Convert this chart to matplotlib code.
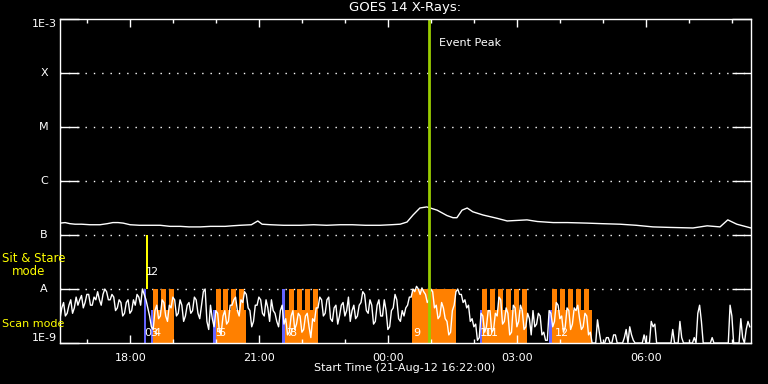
#!/usr/bin/env python3
import matplotlib
matplotlib.use("Agg")
import matplotlib.dates as mdates
import matplotlib.pyplot as plt
import matplotlib.transforms as mtransforms
import numpy as np
import pandas as pd

START = pd.Timestamp("2012-08-21 16:22:00")
END = START + pd.Timedelta(hours=16.07)

# GOES long channel: hours after start, log10 flux
goes_hr = [0.0, 0.12, 0.23, 0.35, 0.5, 0.7, 0.93, 1.1, 1.23, 1.35,
           1.47, 1.63, 1.85, 2.05, 2.33, 2.56, 2.8, 3.0, 3.26, 3.5,
           3.84, 4.0, 4.19, 4.45, 4.6, 4.7, 4.9, 5.2, 5.58, 5.9,
           6.2, 6.51, 6.8, 7.1, 7.44, 7.7, 7.91, 8.07, 8.21, 8.37,
           8.53, 8.77, 9.0, 9.14, 9.23, 9.35, 9.47, 9.6, 9.84, 10.16,
           10.4, 10.86, 11.1, 11.47, 11.8, 12.26, 12.6, 13.02, 13.4, 13.79,
           14.2, 14.72, 15.05, 15.35, 15.53, 15.74, 16.07]
goes_log = [-6.78, -6.77, -6.79, -6.80, -6.80, -6.81, -6.81, -6.79, -6.77, -6.77,
            -6.78, -6.81, -6.82, -6.82, -6.82, -6.84, -6.84, -6.85, -6.85, -6.84,
            -6.84, -6.83, -6.82, -6.81, -6.74, -6.80, -6.81, -6.82, -6.82, -6.81,
            -6.82, -6.81, -6.81, -6.82, -6.82, -6.81, -6.80, -6.76, -6.63, -6.50,
            -6.48, -6.54, -6.64, -6.68, -6.68, -6.54, -6.50, -6.57, -6.63, -6.69,
            -6.74, -6.72, -6.75, -6.77, -6.77, -6.78, -6.79, -6.80, -6.82, -6.85,
            -6.86, -6.87, -6.83, -6.85, -6.72, -6.80, -6.87]

# low trace, one value every 2.5 minutes from start (log10 flux), one row per hour
LOW_STEP_MIN = 2.5
low_log = [
    -8.55, -8.35, -8.25, -8.50, -8.45, -8.30, -8.20, -8.45, -8.35, -8.15, -8.30, -8.20,
    -8.12, -8.35, -8.25, -8.10, -8.10, -8.30, -8.30, -8.15, -8.20, -8.05, -8.20, -8.30,
    -8.10, -8.00, -8.05, -8.20, -8.20, -8.10, -8.15, -8.40, -8.35, -8.20, -8.25, -8.50,
    -8.45, -8.25, -8.20, -8.45, -8.40, -8.20, -8.30, -8.10, -8.15, -8.30, -8.00, -8.10,
    -8.20, -8.35, -8.50, -8.70, -8.75, -8.40, -8.30, -8.55, -8.50, -8.20, -8.25, -8.50,
    -8.60, -8.30, -8.35, -8.15, -8.20, -8.50, -8.45, -8.20, -8.30, -8.60, -8.50, -8.30,
    -8.25, -8.45, -8.40, -8.15, -8.20, -8.45, -8.55, -8.30, -8.05, -8.00, -8.60, -8.75,
    -8.30, -8.55, -8.70, -8.40, -8.45, -8.80, -8.80, -8.50, -8.40, -8.65, -8.60, -8.30,
    -8.30, -8.20, -8.15, -8.40, -8.50, -8.20, -8.25, -8.05, -8.10, -8.35, -8.40, -8.70,
    -8.60, -8.30, -8.30, -8.15, -8.20, -8.45, -8.50, -8.20, -8.35, -8.60, -8.20, -8.40,
    -8.45, -8.60, -8.70, -8.40, -8.30, -8.65, -8.55, -8.85, -8.80, -8.50, -8.40, -8.75,
    -8.65, -8.45, -8.50, -8.80, -8.75, -8.50, -8.45, -8.70, -8.90, -8.55, -8.60, -8.35,
    -8.35, -8.15, -8.20, -8.50, -8.45, -8.20, -8.15, -8.55, -8.60, -8.35, -8.30, -8.65,
    -8.50, -8.30, -8.25, -8.50, -8.40, -8.15, -8.60, -8.40, -8.30, -8.55, -8.50, -8.30,
    -8.25, -8.05, -8.10, -8.40, -8.45, -8.20, -8.30, -8.65, -8.60, -8.30, -8.20, -8.50,
    -8.50, -8.20, -8.40, -8.75, -8.70, -8.40, -8.35, -8.10, -8.20, -8.55, -8.60, -8.40,
    -8.50, -8.35, -8.30, -8.15, -8.15, -8.00, -8.05, -7.95, -8.00, -8.10, -7.98, -8.05,
    -8.10, -8.25, -8.20, -8.00, -8.05, -8.35, -8.30, -8.55, -8.50, -8.25, -8.35, -8.55,
    -8.60, -8.85, -8.80, -8.40, -8.30, -8.05, -8.00, -8.10, -8.10, -8.25, -8.20, -8.35,
    -8.30, -8.60, -8.55, -8.70, -8.65, -8.95, -8.90, -8.45, -8.50, -8.80, -8.70, -8.40,
    -8.40, -8.80, -8.75, -8.45, -8.50, -8.15, -8.20, -8.65, -8.60, -8.35, -8.45, -8.85,
    -8.80, -8.30, -8.35, -8.70, -8.60, -8.30, -8.40, -8.75, -8.70, -8.45, -8.55, -8.85,
    -8.40, -8.70, -8.65, -8.45, -8.50, -8.85, -8.80, -8.95, -8.95, -8.40, -8.45, -8.70,
    -8.60, -8.25, -8.30, -8.55, -8.50, -8.80, -8.70, -8.35, -8.40, -8.75, -8.65, -8.35,
    -8.40, -8.30, -8.55, -8.75, -8.70, -8.45, -8.50, -8.85, -8.80, -9.00, -9.00, -9.00,
    -8.57, -8.80, -9.00, -9.00, -9.00, -8.90, -8.90, -9.00, -9.00, -8.85, -8.85, -9.00,
    -9.00, -9.00, -9.00, -8.90, -8.75, -9.00, -8.70, -8.85, -8.95, -9.00, -9.00, -9.00,
    -9.00, -9.00, -8.85, -9.00, -9.00, -9.00, -8.60, -8.70, -8.65, -9.00, -9.00, -9.00,
    -9.00, -9.00, -9.00, -9.00, -9.00, -9.00, -8.75, -9.00, -9.00, -9.00, -8.60, -8.90,
    -9.00, -9.00, -9.00, -9.00, -9.00, -9.00, -8.90, -9.00, -8.45, -8.30, -8.60, -9.00,
    -9.00, -9.00, -9.00, -9.00, -8.90, -9.00, -9.00, -9.00, -9.00, -9.00, -9.00, -9.00,
    -9.00, -9.00, -8.30, -8.50, -9.00, -9.00, -9.00, -9.00, -8.55, -8.90, -9.00, -8.75,
    -8.60, -8.70,
]

# scan mode blocks (orange): base span and comb teeth
scan_blocks = [("18:32", "19:00"), ("20:00", "20:42"), ("21:36", "22:21"),
               ("02:11", "03:12"), ("03:48", "04:44")]
scan_teeth = [["18:32", "18:43", "18:54"],
              ["20:00", "20:09", "20:20", "20:32"],
              ["21:42", "21:53", "22:04", "22:15"],
              ["02:11", "02:22", "02:33", "02:44", "02:55", "03:06"],
              ["03:49", "04:00", "04:11", "04:22", "04:33"]]
TOOTH_MIN = 7
full_blocks = [("00:33", "01:34")]
BASE_TOP = 10 ** -8.39
FULL_TOP = 1e-8

# short scans (blue) and sit & stare (yellow)
blue_bars = [("18:19", "18:22", 1e-8), ("18:29", "18:32", BASE_TOP),
             ("19:56", "19:59", BASE_TOP), ("21:32", "21:36", 1e-8),
             ("02:08", "02:11", BASE_TOP), ("03:45", "03:48", BASE_TOP)]
sit_bars = [("18:22", "18:25")]

# observation numbers: text, time, log10 level
obs_text = ["0", "3", "4", "1", "2", "5", "6", "7", "8", "9", "10", "11", "12"]
obs_time = ["18:25", "18:33", "18:38", "18:27", "18:33", "20:03", "20:08",
            "21:42", "21:47", "00:40", "02:18", "02:24", "04:02"]
obs_level = [-8.81, -8.81, -8.81, -7.69, -7.69, -8.81, -8.81,
             -8.81, -8.81, -8.81, -8.81, -8.81, -8.81]

EVENT_PEAK = "00:57"

ORANGE = "#ff8000"
BLUE = "#6464ff"
YELLOW = "#ffff00"
GREEN = "#99cc00"


def clock(s):
    t = pd.Timestamp("2012-08-21 " + s)
    if t.hour < 12:
        t += pd.Timedelta(days=1)
    return mdates.date2num(t)


def main():
    plt.rcParams["font.family"] = ["DejaVu Sans"]
    fig = plt.figure(figsize=(7.68, 3.84), dpi=100, facecolor="black")
    ax = fig.add_axes([60 / 768, 1 - 343 / 384, 691 / 768, 324 / 384])
    ax.set_facecolor("black")
    ax.set_yscale("log")
    ax.set_ylim(1e-9, 1e-3)
    ax.set_xlim(mdates.date2num(START), mdates.date2num(END))

    # observation blocks
    for (a, b), teeth in zip(scan_blocks, scan_teeth):
        ax.fill_between([clock(a), clock(b)], 1e-9, BASE_TOP, color=ORANGE, lw=0)
        for t in teeth:
            t0 = clock(t)
            ax.fill_between([t0, t0 + TOOTH_MIN / 1440], 1e-9, FULL_TOP, color=ORANGE, lw=0)
    for a, b in full_blocks:
        ax.fill_between([clock(a), clock(b)], 1e-9, FULL_TOP, color=ORANGE, lw=0)
    for a, b, top in blue_bars:
        ax.fill_between([clock(a), clock(b)], 1e-9, top, color=BLUE, lw=0)
    for a, b in sit_bars:
        ax.fill_between([clock(a), clock(b)], 1e-8, 1e-7, color=YELLOW, lw=0)

    # traces
    t0 = mdates.date2num(START)
    gx = [t0 + h / 24 for h in goes_hr]
    ax.plot(gx, 10 ** np.array(goes_log), color="white", lw=1)
    lx = [t0 + k * LOW_STEP_MIN / 1440 for k in range(len(low_log))]
    ax.plot(lx, 10 ** np.array(low_log), color="white", lw=1)

    ep = clock(EVENT_PEAK)
    ax.axvline(ep, color=GREEN, lw=2)
    ax.text(ep + 14 / 1440, 10 ** -3.44, "Event Peak", color="white", fontsize=8,
            ha="left", va="center")

    for s, t, lv in zip(obs_text, obs_time, obs_level):
        ax.text(clock(t), 10 ** lv, s, color="white", fontsize=8, ha="center", va="center")

    # axes styling
    for sp in ax.spines.values():
        sp.set_color("white")
        sp.set_linewidth(1)
    decades = [1e-9, 1e-8, 1e-7, 1e-6, 1e-5, 1e-4, 1e-3]
    ax.yaxis.set_major_locator(matplotlib.ticker.FixedLocator(decades))
    ax.yaxis.set_minor_locator(matplotlib.ticker.NullLocator())
    ax.tick_params(axis="y", which="major", direction="in", length=14, width=1,
                   color="white", left=True, right=True, labelleft=False)
    for d in decades[1:-1]:
        ax.axhline(d, color="white", lw=1, linestyle=(0, (1, 5)), zorder=0.5)

    ax.xaxis.set_major_locator(mdates.HourLocator(byhour=range(0, 24, 3)))
    ax.xaxis.set_minor_locator(mdates.HourLocator())
    ax.xaxis.set_major_formatter(mdates.DateFormatter("%H:%M"))
    ax.tick_params(axis="x", which="major", direction="in", length=6, width=1,
                   color="white", top=True, bottom=True, labelcolor="white",
                   labelsize=8, pad=7)
    ax.tick_params(axis="x", which="minor", direction="in", length=3, width=1,
                   color="white", top=True, bottom=True)

    # y labels
    trans = mtransforms.blended_transform_factory(fig.transFigure, ax.transData)
    ax.text(57 / 768, 1e-3, "1E-3", transform=trans, color="white", fontsize=8,
            ha="right", va="top")
    ax.text(57 / 768, 1e-9, "1E-9", transform=trans, color="white", fontsize=8,
            ha="right", va="bottom")
    for lab, d in zip(["X", "M", "C", "B", "A"], [1e-4, 1e-5, 1e-6, 1e-7, 1e-8]):
        ax.text(44 / 768, d, lab, transform=trans, color="white", fontsize=8,
                ha="center", va="center")
    ax.text(2 / 768, 10 ** -7.435, "Sit & Stare", transform=trans, color=YELLOW,
            fontsize=8.5, ha="left", va="center")
    ax.text(12 / 768, 10 ** -7.667, "mode", transform=trans, color=YELLOW,
            fontsize=8.5, ha="left", va="center")
    ax.text(2 / 768, 10 ** -8.64, "Scan mode", transform=trans, color=YELLOW,
            fontsize=8, ha="left", va="center")

    fig.text(405 / 768, 1 - 8 / 384, "GOES 14 X-Rays:", color="white", fontsize=9.5,
             ha="center", va="center")
    fig.text(404.5 / 768, 1 - 368 / 384, "Start Time (21-Aug-12 16:22:00)",
             color="white", fontsize=8, ha="center", va="center")

    fig.savefig("out.png", dpi=100, facecolor="black")
    plt.close(fig)


if __name__ == "__main__":
    main()
